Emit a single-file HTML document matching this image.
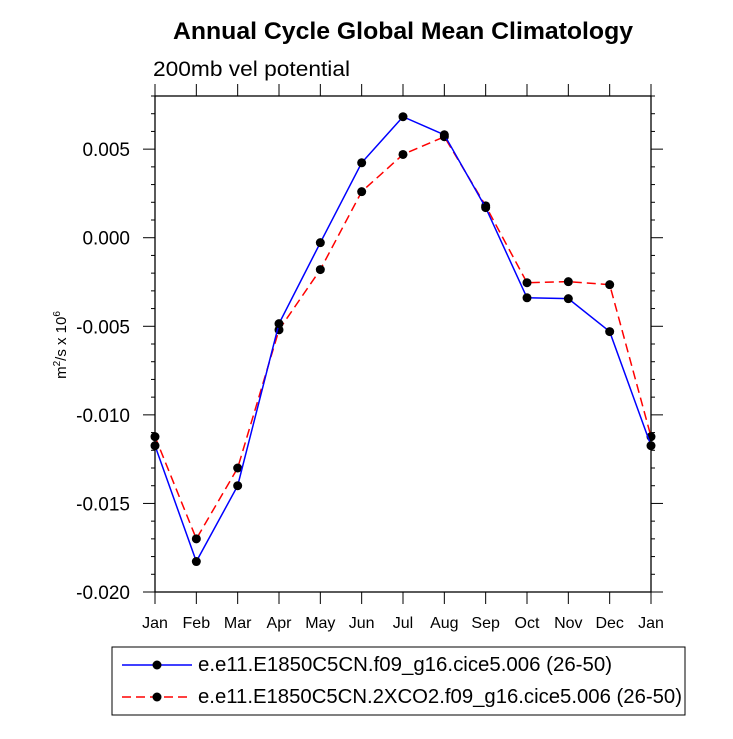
<!DOCTYPE html>
<html><head><meta charset="utf-8"><style>
body{margin:0;background:#fff}
svg text{font-family:"Liberation Sans",Helvetica,sans-serif}
</style></head><body>
<svg width="733" height="734" xmlns="http://www.w3.org/2000/svg">
<text x="403" y="39" text-anchor="middle" font-size="24" font-weight="bold" textLength="460" lengthAdjust="spacingAndGlyphs">Annual Cycle Global Mean Climatology</text>
<text x="153" y="76" font-size="21" textLength="197" lengthAdjust="spacingAndGlyphs">200mb vel potential</text>
<text transform="translate(66,345) rotate(-90)" text-anchor="middle" font-size="15">m<tspan font-size="10" dy="-6">2</tspan><tspan dy="6">/s x 10</tspan><tspan font-size="10" dy="-6">6</tspan></text>
<rect x="155" y="96" width="496" height="496" fill="none" stroke="#000" stroke-width="1.3"/>
<g id="axes"></g>
<g id="series"></g>
<g>
<rect x="112" y="647" width="573" height="68" fill="none" stroke="#000" stroke-width="1"/>
<g>
<line x1="122" y1="665" x2="192" y2="665" stroke="#00f" stroke-width="1.5"/>
<circle cx="157" cy="665" r="4.5" fill="#000"/>
<text x="198" y="671" font-size="20" textLength="414" lengthAdjust="spacingAndGlyphs">e.e11.E1850C5CN.f09_g16.cice5.006 (26-50)</text></g>
<g>
<line x1="122" y1="697" x2="192" y2="697" stroke="#f00" stroke-width="1.5" stroke-dasharray="9,5"/>
<circle cx="157" cy="697" r="4.5" fill="#000"/>
<text x="198" y="703" font-size="20" textLength="484" lengthAdjust="spacingAndGlyphs">e.e11.E1850C5CN.2XCO2.f09_g16.cice5.006 (26-50)</text></g>
</g>
</svg>
<script>
const months=["Jan","Feb","Mar","Apr","May","Jun","Jul","Aug","Sep","Oct","Nov","Dec","Jan"];
const yTicks=[0.005,0,-0.005,-0.01,-0.015,-0.02];
const yTickLabels=["0.005","0.000","-0.005","-0.010","-0.015","-0.020"];
const controlVals=[-0.01174,-0.01828,-0.0140,-0.00485,-0.00028,0.00423,0.00683,0.00581,0.0017,-0.00339,-0.00344,-0.0053,-0.01174];
const co2Vals=[-0.01123,-0.0170,-0.0130,-0.0052,-0.0018,0.0026,0.0047,0.0057,0.0018,-0.00254,-0.00248,-0.00265,-0.01123];
const NS="http://www.w3.org/2000/svg";
const X0=155,X1=651,Y0=592,Y1=96,YMIN=-0.020,YMAX=0.008;
const xs=i=>X0+(X1-X0)*i/(months.length-1);
const ys=v=>Y0-(v-YMIN)/(YMAX-YMIN)*(Y0-Y1);
function mk(tag,attrs,parent){const e=document.createElementNS(NS,tag);for(const k in attrs)e.setAttribute(k,attrs[k]);parent.appendChild(e);return e;}
const ax=document.getElementById('axes');
months.forEach((m,i)=>{const x=xs(i);
 const t=mk('line',{x1:x,y1:Y0,x2:x,y2:Y0+12,stroke:'#000'},ax);
 
 
 const t2=mk('line',{x1:x,y1:Y1,x2:x,y2:Y1-12,stroke:'#000'},ax);
 
 
 const l=mk('text',{x:x,y:Y0+36,'text-anchor':'middle','font-size':'16'},ax);l.textContent=m;
 
 
});
for(let k=0;k<=28;k++){const v=YMIN+k*0.001;const y=ys(v);const major=(k%5===0);const len=major?12:4;
 const a=mk('line',{x1:X0-len,y1:y,x2:X0,y2:y,stroke:'#000'},ax);
 
 
 const b=mk('line',{x1:X1,y1:y,x2:X1+len,y2:y,stroke:'#000'},ax);
 
 
}
yTicks.forEach((v,i)=>{const l=mk('text',{x:X0-25,y:ys(v)+7,'text-anchor':'end','font-size':'19'},ax);l.textContent=yTickLabels[i];
 
 
});
const sg=document.getElementById('series');
function series(vals,color,dash,name){
 const p=mk('polyline',{points:vals.map((v,i)=>xs(i)+','+ys(v)).join(' '),fill:'none',stroke:color,'stroke-width':1.5,'stroke-dasharray':dash},sg);
 
 
 vals.forEach((v,i)=>{const c=mk('circle',{cx:xs(i),cy:ys(v),r:4.5,fill:'#000'},sg);
  
  });
}
series(co2Vals,'#f00','9,5','co2');
series(controlVals,'#00f','none','control');
</script>
</body></html>
